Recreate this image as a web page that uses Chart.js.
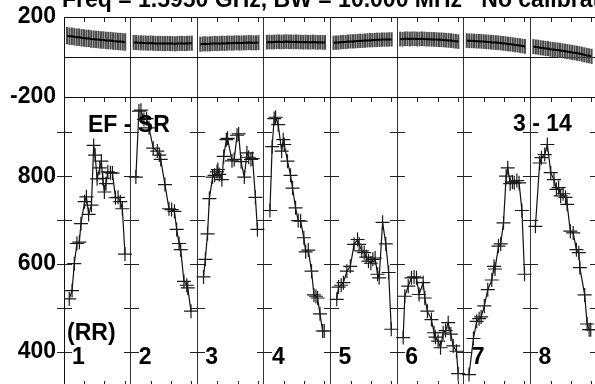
<!DOCTYPE html>
<html>
<head>
<meta charset="utf-8">
<script src="https://cdn.jsdelivr.net/npm/chart.js@4.4.1/dist/chart.umd.min.js"></script>
<style>
  html, body { margin: 0; padding: 0; background: #fff; overflow: hidden; }
  /* the frame runs past the right and bottom edges, so crop a larger canvas */
  #wrap { position: relative; width: 595px; height: 384px; overflow: hidden; }
  canvas { display: block; }
</style>
</head>
<body>
<div id="wrap"><canvas id="chart" width="600" height="388"></canvas></div>
<script>
// panel captions
const titleText = 'Freq = 1.5950 GHz, BW = 10.000 MHz   No calibration';
const segLabels = ['1', '2', '3', '4', '5', '6', '7', '8'];
const leftNote = 'EF - SR';
const rightNote = '3 - 14';
const unitNote = '(RR)';

// tick values
const minorTicks = [1, 2, 3];
const topTicks = [-200, 0, 200];
const lowTicks = [400, 500, 600, 700, 800, 900];

// upper panel: sample positions inside each segment, values, error half-widths
const topX = [0.15, 0.27, 0.39, 0.51, 0.63, 0.75, 0.87, 0.99, 1.11, 1.23, 1.35, 1.47, 1.59,
              1.71, 1.83, 1.95, 2.07, 2.19, 2.31, 2.43, 2.55, 2.67, 2.79, 2.91, 3.03];
const topY = [
  [107, 104, 104, 101, 99, 99, 96, 95, 93, 93, 90, 89, 88, 87, 85, 85, 83, 82, 82, 80, 79, 78, 77, 76, 75],
  [73, 72, 71, 71, 70, 70, 69, 70, 69, 68, 68, 68, 67, 67, 68, 67, 67, 66, 67, 68, 68, 67, 68, 69, 69],
  [64, 65, 66, 65, 66, 67, 68, 67, 68, 69, 68, 69, 70, 69, 70, 71, 70, 70, 71, 71, 72, 71, 71, 71, 72],
  [74, 75, 74, 75, 76, 76, 75, 76, 77, 76, 76, 75, 76, 75, 75, 74, 75, 74, 74, 75, 74, 73, 74, 73, 73],
  [71, 72, 72, 74, 75, 75, 77, 78, 78, 79, 80, 81, 81, 82, 83, 84, 84, 85, 86, 86, 87, 87, 87, 88, 88],
  [90, 89, 91, 91, 90, 91, 91, 90, 90, 91, 90, 89, 89, 88, 88, 87, 86, 86, 85, 84, 83, 82, 80, 79, 77],
  [82, 81, 81, 80, 79, 79, 78, 77, 76, 75, 74, 73, 72, 71, 70, 68, 67, 65, 64, 62, 60, 59, 57, 55, 53],
  [52, 50, 49, 46, 45, 43, 42, 39, 38, 36, 35, 33, 31, 29, 27, 25, 23, 21, 19, 17, 14, 11, 8, 6, 3]
];
const topErr = [42, 36, 36, 35, 34, 35, 35, 36];

// lower panel: sample positions inside each segment and values
const lowX = [
  [0.26, 0.40, 0.51, 0.64, 0.76, 0.84, 1.02, 1.11, 1.22, 1.36, 1.47, 1.54, 1.64, 1.77, 1.85, 1.92, 2.00, 2.08, 2.17, 2.30, 2.40, 2.55, 2.68, 2.79, 2.89, 3.02],
  [0.26, 0.41, 0.51, 0.66, 0.79, 0.91, 1.12, 1.32, 1.42, 1.49, 1.70, 1.90, 2.03, 2.17, 2.28, 2.40, 2.48, 2.64, 2.78, 2.83, 2.99],
  [0.31, 0.40, 0.51, 0.60, 0.76, 0.86, 0.98, 1.02, 1.09, 1.22, 1.31, 1.44, 1.50, 1.72, 1.83, 1.97, 2.05, 2.17, 2.33, 2.46, 2.55, 2.66, 2.74, 2.88, 2.98],
  [0.30, 0.41, 0.51, 0.58, 0.71, 0.88, 0.96, 1.01, 1.17, 1.32, 1.42, 1.57, 1.70, 1.82, 1.98, 2.07, 2.20, 2.36, 2.48, 2.58, 2.66, 2.78, 2.91, 2.99],
  [0.31, 0.40, 0.53, 0.64, 0.81, 0.98, 1.17, 1.34, 1.42, 1.55, 1.67, 1.77, 1.88, 2.00, 2.10, 2.21, 2.33, 2.41, 2.58, 2.74, 2.88, 3.01],
  [0.30, 0.38, 0.55, 0.71, 0.84, 0.96, 1.09, 1.29, 1.37, 1.50, 1.70, 1.83, 1.90, 2.03, 2.15, 2.28, 2.40, 2.53, 2.66, 2.78, 2.94, 3.02],
  [0.26, 0.48, 0.64, 0.76, 0.86, 1.02, 1.19, 1.39, 1.50, 1.55, 1.72, 1.83, 1.97, 2.10, 2.18, 2.30, 2.41, 2.50, 2.63, 2.74, 2.88, 3.01],
  [0.25, 0.46, 0.55, 0.71, 0.84, 1.01, 1.17, 1.29, 1.40, 1.50, 1.62, 1.74, 1.82, 1.98, 2.12, 2.28, 2.40, 2.45, 2.69, 2.81, 2.91, 2.99]
];
const lowY = [
  [521, 540, 601, 647, 650, 692, 742, 753, 713, 734, 870, 848, 794, 819, 834, 795, 764, 783, 810, 808, 807, 751, 752, 742, 726, 623],
  [798, 948, 950, 929, 931, 910, 864, 857, 848, 838, 781, 726, 724, 720, 679, 647, 633, 561, 552, 546, 493],
  [571, 611, 669, 749, 798, 802, 810, 815, 804, 792, 845, 883, 886, 835, 838, 893, 896, 833, 798, 853, 843, 838, 840, 752, 679],
  [722, 867, 931, 934, 917, 857, 883, 872, 834, 802, 773, 728, 699, 698, 660, 628, 632, 584, 530, 527, 523, 487, 448, 448],
  [520, 548, 552, 558, 584, 595, 645, 656, 645, 630, 626, 616, 607, 602, 611, 614, 577, 569, 695, 646, 581, 452],
  [433, 527, 550, 569, 571, 569, 531, 558, 523, 493, 474, 444, 434, 425, 410, 444, 449, 467, 441, 414, 402, 351],
  [349, 431, 470, 476, 480, 505, 542, 564, 595, 589, 641, 646, 694, 800, 819, 783, 787, 785, 790, 785, 722, 577],
  [686, 830, 842, 849, 872, 808, 792, 770, 774, 755, 760, 752, 736, 675, 671, 633, 626, 592, 530, 464, 451, 451]
];

const SEG = 3.3; // x units per segment
const FONT = '"Liberation Sans", Arial, Helvetica, sans-serif';

function buildDatasets() {
    const sets = [];
    lowY.forEach((ys, i) => {
        sets.push({
            type: 'line',
            yAxisID: 'yLow',
            data: ys.map((y, j) => ({ x: i * SEG + lowX[i][j], y: y })),
            borderColor: '#111',
            borderWidth: 1.2,
            pointStyle: 'cross',
            pointRadius: 7,
            pointBorderWidth: 1.2,
            pointBorderColor: '#1a1a1a',
            tension: 0
        });
    });
    topY.forEach((ys, i) => {
        sets.push({
            type: 'line',
            yAxisID: 'yTop',
            data: ys.map((y, j) => ({ x: i * SEG + topX[j], y: y })),
            borderColor: '#000',
            borderWidth: 2,
            pointRadius: 0,
            tension: 0
        });
    });
    // error bars of the upper panel as thin floating bars
    const errs = [];
    topY.forEach((ys, i) => {
        ys.forEach((y, j) => errs.push({ x: i * SEG + topX[j], y: [y - topErr[i], y + topErr[i]] }));
    });
    sets.push({
        type: 'bar',
        yAxisID: 'yTop',
        data: errs,
        backgroundColor: '#4a4a4a',
        borderWidth: 0,
        barThickness: 1.4,
        grouped: false
    });
    return sets;
}

// tick marks inside the frame and the captions
const frameMarks = {
    id: 'frameMarks',
    afterDraw(chart) {
        const { ctx, scales } = chart;
        const x = scales.x, yTop = scales.yTop, yLow = scales.yLow;
        ctx.save();
        ctx.strokeStyle = '#222';
        ctx.lineWidth = 1;
        ctx.beginPath();
        for (let i = 0; i < segLabels.length; i++) {
            minorTicks.forEach(t => {
                const px = Math.round(x.getPixelForValue(i * SEG + t)) + 0.5;
                ctx.moveTo(px, yTop.top); ctx.lineTo(px, yTop.top + 5);
                ctx.moveTo(px, yLow.top); ctx.lineTo(px, yLow.top + 5);
                ctx.moveTo(px, yLow.bottom); ctx.lineTo(px, yLow.bottom - 5);
            });
        }
        for (let i = 0; i <= segLabels.length; i++) {
            const px = Math.round(x.getPixelForValue(i * SEG));
            lowTicks.forEach(v => {
                const py = Math.round(yLow.getPixelForValue(v)) + 0.5;
                ctx.moveTo(px - 7, py); ctx.lineTo(px + 8, py);
            });
        }
        ctx.stroke();

        ctx.fillStyle = '#000';
        ctx.font = 'bold 23px ' + FONT;
        ctx.textBaseline = 'alphabetic';
        ctx.textAlign = 'left';
        ctx.fillText(titleText, 62, 7);
        ctx.fillText(leftNote, 88, 132);
        ctx.fillText(rightNote, 513, 131);
        ctx.fillText(unitNote, 67, 340);
        segLabels.forEach((lab, i) => {
            ctx.fillText(lab, x.getPixelForValue(i * SEG) + 8, 364);
        });
        ctx.restore();
    }
};

const tickFont = { family: FONT, size: 23, weight: 'bold' };

// fixed-width y axes with no automatic label padding
function fitAxis(s) {
    s.width = 64;
    s.paddingTop = 0;
    s.paddingBottom = 0;
}

new Chart(document.getElementById('chart').getContext('2d'), {
    type: 'line',
    data: { datasets: buildDatasets() },
    options: {
        responsive: false,
        animation: false,
        devicePixelRatio: 1,
        layout: { autoPadding: false, padding: { top: 17, right: 3, bottom: 2, left: 0 } },
        plugins: {
            legend: { display: false },
            tooltip: { enabled: false },
            title: { display: false }
        },
        scales: {
            x: {
                type: 'linear',
                min: 0,
                max: segLabels.length * SEG,
                offset: false,
                border: { display: false },
                grid: { color: '#333', lineWidth: 1, drawTicks: false, offset: false },
                ticks: { display: false, autoSkip: false },
                afterBuildTicks: s => {
                    s.ticks = segLabels.map((_, i) => ({ value: i * SEG })).concat([{ value: segLabels.length * SEG }]);
                },
                afterFit: s => { s.height = 0; s.paddingLeft = 0; s.paddingRight = 0; }
            },
            yTop: {
                type: 'linear',
                position: 'left',
                stack: 'panels',
                stackWeight: 80,
                weight: 2,
                min: -200,
                max: 200,
                beginAtZero: false,
                border: { display: true, color: '#111', width: 1 },
                grid: { color: '#111', lineWidth: 1, drawTicks: false },
                ticks: {
                    font: tickFont,
                    color: '#000',
                    padding: 8,
                    autoSkip: false,
                    callback: v => (v === 0 ? '' : v)
                },
                afterBuildTicks: s => { s.ticks = topTicks.map(v => ({ value: v })); },
                afterFit: fitAxis
            },
            yLow: {
                type: 'linear',
                position: 'left',
                stack: 'panels',
                stackWeight: 289,
                weight: 1,
                min: 323,
                max: 980,
                border: { display: true, color: '#111', width: 1 },
                grid: { display: false, drawTicks: false },
                ticks: {
                    font: tickFont,
                    color: '#000',
                    padding: 8,
                    autoSkip: false,
                    callback: v => (v % 200 === 0 ? v : '')
                },
                afterBuildTicks: s => { s.ticks = lowTicks.map(v => ({ value: v })); },
                afterFit: fitAxis
            }
        }
    },
    plugins: [frameMarks]
});
</script>
</body>
</html>
